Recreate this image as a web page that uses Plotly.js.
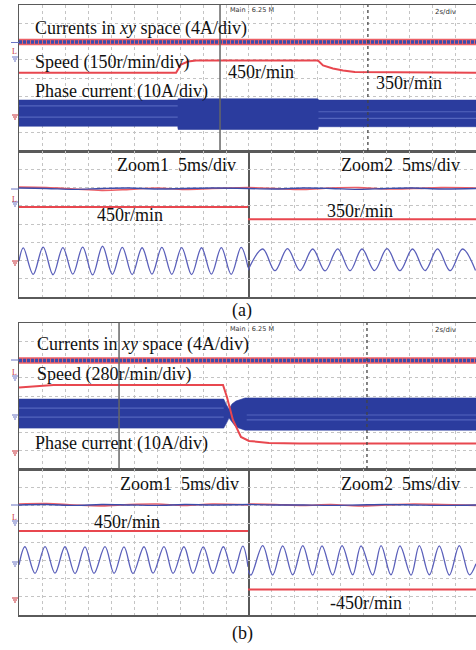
<!DOCTYPE html>
<html><head><meta charset="utf-8">
<script src="https://cdn.plot.ly/plotly-3.0.1.min.js"></script>
<style>html,body{margin:0;padding:0;background:#fff}#chart{width:476px;height:650px}</style>
</head><body><div id="chart"></div>
<script>
// ================= DATA =================
// ---- (a) main record, time in s (2 s/div) ----
const aMainSpeedT = [0, 6.83, 7.04, 7.35, 7.70, 13.0, 13.22, 13.65, 14.09, 14.6, 19.87];
const aMainSpeedV = [350, 350, 417, 441, 450, 450, 409, 384, 368, 355, 350];      // r/min
const aMainXyT = [0, 19.87];
const aMainXyV = [0, 0];                                                          // A
const aMainPhaseT  = [0, 6.9, 6.92, 13.0, 13.02, 19.87];
const aMainPhaseHi = [7.4, 7.4, 8.1, 8.1, 7.4, 7.4];                              // A (envelope)
const aMainPhaseLo = [-6.9, -6.9, -8.7, -8.7, -7.2, -7.2];
// lighter aliasing stripes inside the dense band
const aStripePreT = [0, 6.9];    const aStripePre1 = [4.2, 4.2];   const aStripePre2 = [-1.9, -1.9];
const aStripePostT = [13.02, 19.87]; const aStripePost1 = [1.0, 1.0]; const aStripePost2 = [-2.6, -2.6];

// ---- (a) zoom windows, time in ms (5 ms/div) ----
const aZ1SpeedT = [0, 24.89];  const aZ1SpeedV = [450, 450];
const aZ2SpeedT = [0, 24.78];  const aZ2SpeedV = [350, 350];
const aZ1XyT = [0, 3, 6, 9, 12, 15, 18, 21, 24.89];
const aZ1XyBlue = [0.1, 0.0, -0.2, 0.0, 0.1, -0.1, 0.0, 0.1, 0.0];
const aZ1XyRed  = [0.3, 0.2, -0.1, -0.4, -0.2, 0.1, -0.2, 0.0, 0.2];
const aZ2XyT = [0, 3, 6, 9, 12, 15, 18, 21, 24.78];
const aZ2XyBlue = [0.0, -0.1, 0.1, 0.0, -0.2, 0.0, 0.1, -0.1, 0.0];
const aZ2XyRed  = [0.2, 0.0, -0.2, 0.1, 0.2, -0.1, 0.0, 0.2, 0.1];
const aZ1PhaseT = [0, 0.47, 1.54, 2.62, 3.70, 4.77, 5.85, 6.92, 8.00, 9.08, 10.15, 11.23, 12.30,
                   13.38, 14.45, 15.53, 16.61, 17.68, 18.76, 19.84, 20.91, 21.99, 23.06, 24.14, 24.89];
const aZ1PhaseV = [0, 7.2, -7.3, 7.6, -7.5, 7.4, -7.2, 7.6, -7.6, 8.1, -7.3, 7.5, -7.4,
                   7.3, -7.2, 7.5, -7.3, 7.4, -7.4, 7.3, -7.2, 7.4, -7.3, 7.5, -3.5];
const aZ2PhaseT = [0, 1.60, 2.93, 4.29, 5.65, 7.03, 8.37, 9.75, 11.09, 12.39, 13.75, 15.11,
                   16.52, 17.88, 19.24, 20.60, 21.96, 23.32, 24.73];
const aZ2PhaseV = [-5.0, 6.6, -5.3, 6.8, -5.2, 6.6, -5.4, 6.7, -5.3, 6.6, -5.2, 6.8,
                   -5.3, 6.6, -5.2, 6.7, -5.3, 6.6, -5.2];

// ---- (b) main record, time in s ----
const bMainSpeedT = [0, 0.9, 1.5, 8.87, 9.04, 9.3, 9.61, 9.65, 10.0, 10.87, 12.2, 19.87];
const bMainSpeedV = [410, 440, 450, 450, 266, -87, -317, -348, -409, -440, -450, -450];
const bMainXyT = [0, 19.87];
const bMainXyV = [0, 0];
const bMainPhaseT  = [0, 8.9, 9.0, 9.13, 9.26, 9.43, 9.83, 19.87];
const bMainPhaseHi = [8.2, 8.2, 5.5, 2.7, 5.5, 7.1, 8.8, 8.8];
const bMainPhaseLo = [-7.7, -7.7, -5.5, -2.2, -4.4, -7.1, -8.8, -8.8];
const bStripePreT = [0, 8.9];      const bStripePre1 = [3.3, 3.3];   const bStripePre2 = [-1.7, -1.7];
const bStripePostT = [9.9, 19.87]; const bStripePost1 = [-0.5, -0.5]; const bStripePost2 = [-3.2, -3.2];

// ---- (b) zoom windows, time in ms ----
const bZ1SpeedT = [0, 24.89];  const bZ1SpeedV = [450, 450];
const bZ2SpeedT = [0, 24.78];  const bZ2SpeedV = [-450, -450];
const bZ1XyT = [0, 3, 6, 9, 12, 15, 18, 21, 24.89];
const bZ1XyBlue = [0.0, 0.1, -0.1, 0.1, 0.0, -0.1, 0.1, 0.0, 0.1];
const bZ1XyRed  = [0.2, 0.3, 0.0, -0.2, 0.1, 0.2, -0.1, 0.2, 0.0];
const bZ2XyT = [0, 3, 6, 9, 12, 15, 18, 21, 24.78];
const bZ2XyBlue = [0.1, 0.0, 0.0, -0.1, 0.0, 0.1, 0.0, -0.1, 0.0];
const bZ2XyRed  = [0.2, 0.1, -0.1, 0.1, -0.2, 0.0, 0.2, 0.1, -0.1];
const bZ1PhaseT = [0, 0.65, 1.74, 2.83, 3.91, 5.00, 6.09, 7.17, 8.15, 9.35, 10.33, 11.41, 12.39,
                   13.59, 14.57, 15.76, 16.74, 17.93, 18.91, 20.03, 21.09, 22.21, 23.26, 24.32, 24.89];
const bZ1PhaseV = [-2.7, 7.3, -7.3, 7.4, -7.2, 7.3, -7.4, 7.2, -7.3, 7.4, -7.3, 7.2, -7.4,
                   7.3, -7.2, 7.4, -7.3, 7.3, -7.3, 7.2, -7.4, 7.3, -7.2, 7.6, -3.7];
const bZ2PhaseT = [0, 0.33, 1.60, 2.68, 3.77, 4.86, 5.95, 7.03, 8.04, 9.20, 10.22, 11.38, 12.28,
                   13.55, 14.46, 15.54, 16.52, 17.72, 18.62, 19.71, 20.79, 21.88, 22.97, 24.06, 24.78];
const bZ2PhaseV = [-5.5, -8.2, 7.9, -8.2, 7.8, -8.1, 7.9, -8.2, 7.8, -8.2, 7.9, -8.1, 7.8,
                   -8.2, 7.9, -8.1, 7.8, -8.2, 7.9, -8.1, 7.8, -8.2, 7.9, -8.1, -2.0];

// ================= SCOPE SETTINGS (scale per division, zero position in divisions) =================
const ch = {
  aMain: {xy:{perDiv:4, zero:5.97}, speed:{perDiv:150, zero:1.96}, phase:{perDiv:10, zero:2.05}},
  aZoom: {xy:{perDiv:4, zero:5.945}, speed:{perDiv:150, zero:1.93}, phase:{perDiv:10, zero:1.97}},
  bMain: {xy:{perDiv:4, zero:5.945}, speed:{perDiv:280, zero:3.0}, phase:{perDiv:10, zero:3.01}},
  bZoom: {xy:{perDiv:4, zero:6.03}, speed:{perDiv:280, zero:3.0}, phase:{perDiv:10, zero:3.01}}
};
const toDiv = (vals, c) => vals.map(v => c.zero + v / c.perDiv);

// ================= STYLE =================
const W = 476, H = 650;
const RED = '#e8474f', RED2 = '#ec5f66', BLUE = '#3c4cab', SINE = '#5a5fba', BAND = '#2b3c9e', STRIPE = '#5465bd';
const FRAME = '#5a5a5a', GRID = '#c4c4c4';
const px = x => x / W, py = y => 1 - y / H;

function xax(x0, x1, range, dtick, anchor) {
  return {domain:[px(x0), px(x1)], range, dtick, tick0:0, anchor,
    showgrid:true, gridcolor:GRID, griddash:'dot', gridwidth:1,
    showline:true, linecolor:FRAME, linewidth:1.5, mirror:true,
    zeroline:false, showticklabels:false, ticks:'', fixedrange:true};
}
function yax(y0, y1, anchor, mirror) {
  return {domain:[py(y1), py(y0)], range:[0, 8], dtick:1, tick0:0, anchor,
    showgrid:true, gridcolor:GRID, griddash:'dot', gridwidth:1,
    showline:true, linecolor:FRAME, linewidth:1.5, mirror:mirror,
    zeroline:false, showticklabels:false, ticks:'', fixedrange:true};
}

const traces = [];
function line(x, y, xa, ya, color, width, extra) {
  traces.push(Object.assign({type:'scatter', mode:'lines', x, y, xaxis:xa, yaxis:ya,
    line:{color, width}, hoverinfo:'skip', showlegend:false}, extra || {}));
}
function band(t, hi, lo, c, xa, ya) {
  const xs = t.concat(t.slice().reverse());
  const ys = toDiv(hi, c).concat(toDiv(lo, c).reverse());
  traces.push({type:'scatter', mode:'lines', x:xs, y:ys, xaxis:xa, yaxis:ya, fill:'toself',
    fillcolor:BAND, line:{color:BAND, width:0.6}, hoverinfo:'skip', showlegend:false});
}
function stripe(t, v, c, xa, ya) { line(t, toDiv(v, c), xa, ya, STRIPE, 1.2); }
function xyMain(t, v, c, xa, ya) {
  line(t, toDiv(v, c), xa, ya, RED2, 6.5);
  line(t, toDiv(v, c), xa, ya, BLUE, 3.5, {line:{color:BLUE, width:3.5, dash:'3px,1px'}});
}
const spl = (color, width) => ({line:{color, width, shape:'spline'}});

// (a) main
xyMain(aMainXyT, aMainXyV, ch.aMain.xy, 'x', 'y');
line(aMainSpeedT, toDiv(aMainSpeedV, ch.aMain.speed), 'x', 'y', RED, 2);
band(aMainPhaseT, aMainPhaseHi, aMainPhaseLo, ch.aMain.phase, 'x', 'y');
stripe(aStripePreT, aStripePre1, ch.aMain.phase, 'x', 'y');
stripe(aStripePreT, aStripePre2, ch.aMain.phase, 'x', 'y');
stripe(aStripePostT, aStripePost1, ch.aMain.phase, 'x', 'y');
stripe(aStripePostT, aStripePost2, ch.aMain.phase, 'x', 'y');
// (a) zoom
line(aZ1XyT, toDiv(aZ1XyRed, ch.aZoom.xy), 'x2', 'y2', RED2, 1.6, spl(RED2, 1.6));
line(aZ1XyT, toDiv(aZ1XyBlue, ch.aZoom.xy), 'x2', 'y2', BLUE, 1.4, spl(BLUE, 1.4));
line(aZ2XyT, toDiv(aZ2XyRed, ch.aZoom.xy), 'x3', 'y2', RED2, 1.6, spl(RED2, 1.6));
line(aZ2XyT, toDiv(aZ2XyBlue, ch.aZoom.xy), 'x3', 'y2', BLUE, 1.4, spl(BLUE, 1.4));
line(aZ1SpeedT, toDiv(aZ1SpeedV, ch.aZoom.speed), 'x2', 'y2', RED, 2);
line(aZ2SpeedT, toDiv(aZ2SpeedV, ch.aZoom.speed), 'x3', 'y2', RED, 2);
line(aZ1PhaseT, toDiv(aZ1PhaseV, ch.aZoom.phase), 'x2', 'y2', SINE, 1.3, spl(SINE, 1.3));
line(aZ2PhaseT, toDiv(aZ2PhaseV, ch.aZoom.phase), 'x3', 'y2', SINE, 1.3, spl(SINE, 1.3));
// (b) main
xyMain(bMainXyT, bMainXyV, ch.bMain.xy, 'x4', 'y4');
band(bMainPhaseT, bMainPhaseHi, bMainPhaseLo, ch.bMain.phase, 'x4', 'y4');
stripe(bStripePreT, bStripePre1, ch.bMain.phase, 'x4', 'y4');
stripe(bStripePreT, bStripePre2, ch.bMain.phase, 'x4', 'y4');
stripe(bStripePostT, bStripePost1, ch.bMain.phase, 'x4', 'y4');
stripe(bStripePostT, bStripePost2, ch.bMain.phase, 'x4', 'y4');
line(bMainSpeedT, toDiv(bMainSpeedV, ch.bMain.speed), 'x4', 'y4', RED, 2);
// (b) zoom
line(bZ1XyT, toDiv(bZ1XyRed, ch.bZoom.xy), 'x5', 'y5', RED2, 1.6, spl(RED2, 1.6));
line(bZ1XyT, toDiv(bZ1XyBlue, ch.bZoom.xy), 'x5', 'y5', BLUE, 1.4, spl(BLUE, 1.4));
line(bZ2XyT, toDiv(bZ2XyRed, ch.bZoom.xy), 'x6', 'y5', RED2, 1.6, spl(RED2, 1.6));
line(bZ2XyT, toDiv(bZ2XyBlue, ch.bZoom.xy), 'x6', 'y5', BLUE, 1.4, spl(BLUE, 1.4));
line(bZ1SpeedT, toDiv(bZ1SpeedV, ch.bZoom.speed), 'x5', 'y5', RED, 2);
line(bZ2SpeedT, toDiv(bZ2SpeedV, ch.bZoom.speed), 'x6', 'y5', RED, 2);
line(bZ1PhaseT, toDiv(bZ1PhaseV, ch.bZoom.phase), 'x5', 'y5', SINE, 1.3, spl(SINE, 1.3));
line(bZ2PhaseT, toDiv(bZ2PhaseV, ch.bZoom.phase), 'x6', 'y5', SINE, 1.3, spl(SINE, 1.3));

// ================= TEXT =================
const SERIF = '"Liberation Serif", "Times New Roman", serif';
const ann = [];
function label(text, x, y, size, opts) {
  ann.push(Object.assign({text, xref:'paper', yref:'paper', x:px(x), y:py(y), xanchor:'left', yanchor:'middle',
    showarrow:false, borderpad:0, font:{family:SERIF, size:size || 18, color:'#111'}}, opts || {}));
}
const NB = '\u00a0';
label('Currents in <i>xy</i> space (4A/div)', 34, 28);
label('Speed (150r/min/div)', 34, 62);
label('Phase current (10A/div)', 34, 92);
label('450r/min', 227, 72);
label('350r/min', 375, 83);
label('Zoom1' + NB + NB + '5ms/div', 116, 165);
label('Zoom2' + NB + NB + '5ms/div', 340, 165);
label('450r/min', 96, 215);
label('350r/min', 326, 211);
label('(a)', 242, 310, 18, {xanchor:'center'});
label('Currents in <i>xy</i> space (4A/div)', 36, 344);
label('Speed (280r/min/div)', 36, 374);
label('Phase current (10A/div)', 34, 444);
label('Zoom1' + NB + NB + '5ms/div', 119, 484);
label('Zoom2' + NB + NB + '5ms/div', 340, 484);
label('450r/min', 93, 522);
label('-450r/min', 329, 603);
label('(b)', 243, 633, 18, {xanchor:'center'});
const SMALL = {family:'"DejaVu Sans", sans-serif', size:6.5, color:'#333'};
label('Main : 6.25 M', 229, 10, 6.5, {font:SMALL});
label('2s/div', 434, 12, 7, {font:Object.assign({}, SMALL, {size:7})});
label('Main : 6.25 M', 229, 329, 6.5, {font:SMALL});
label('2s/div', 434, 330, 7, {font:Object.assign({}, SMALL, {size:7})});
// channel "L" markers
[51, 199, 372, 517].forEach(y => label('L', 10.5, y, 8, {font:{family:SERIF, size:8, color:'#c8323a'}}));

// ================= SHAPES (cursors, ground marks) =================
const shapes = [];
function vcur(xref, yref, x, dash) {
  shapes.push({type:'line', xref, yref:yref + ' domain', x0:x, x1:x, y0:0, y1:1,
    line:{color: dash ? '#444' : '#666', width: dash ? 1.3 : 1.5, dash: dash ? 'dot' : 'solid'}});
}
vcur('x', 'y', 8.74, false);  vcur('x', 'y', 15.17, true);
vcur('x4', 'y4', 4.35, false); vcur('x4', 'y4', 15.13, true);
function gnd(y, color) {
  [[12, 18, 0], [13, 17, 2], [14, 16, 4]].forEach(s => shapes.push({type:'line', xref:'paper', yref:'paper',
    x0:px(s[0]), x1:px(s[1]), y0:py(y + s[2]), y1:py(y + s[2]), line:{color, width:1}}));
}
function tick(y, color) {
  shapes.push({type:'line', xref:'paper', yref:'paper', x0:px(11), x1:px(19), y0:py(y), y1:py(y), line:{color, width:1}});
}
tick(42.5, '#6a74c4'); gnd(57, '#6a74c4'); gnd(115, '#c8323a');
tick(189, '#6a74c4'); gnd(202, '#6a74c4'); gnd(261, '#c8323a');
tick(360, '#6a74c4'); gnd(376, '#6a74c4'); gnd(415, '#6a74c4'); gnd(451, '#c8323a');
tick(505, '#6a74c4'); gnd(521, '#6a74c4'); gnd(562, '#6a74c4'); gnd(598, '#c8323a');

const layout = {
  width: W, height: H, margin:{l:0, r:0, t:0, b:0}, paper_bgcolor:'#fff', plot_bgcolor:'#fff',
  showlegend:false,
  xaxis:  xax(19, 476, [0, 19.87], 1, 'y'),
  yaxis:  yax(5, 151, 'x', false),
  xaxis2: xax(19, 248, [0, 24.89], 2.5, 'y2'),
  yaxis2: yax(151, 297, 'x2', true),
  xaxis3: xax(248, 476, [0, 24.78], 2.5, 'y2'),
  xaxis4: xax(19, 476, [0, 19.87], 1, 'y4'),
  yaxis4: yax(323, 469, 'x4', false),
  xaxis5: xax(19, 248, [0, 24.89], 2.5, 'y5'),
  yaxis5: yax(469, 615, 'x5', true),
  xaxis6: xax(248, 476, [0, 24.78], 2.5, 'y5'),
  annotations: ann, shapes
};
Plotly.newPlot('chart', traces, layout, {staticPlot:true, displayModeBar:false});
</script></body></html>
